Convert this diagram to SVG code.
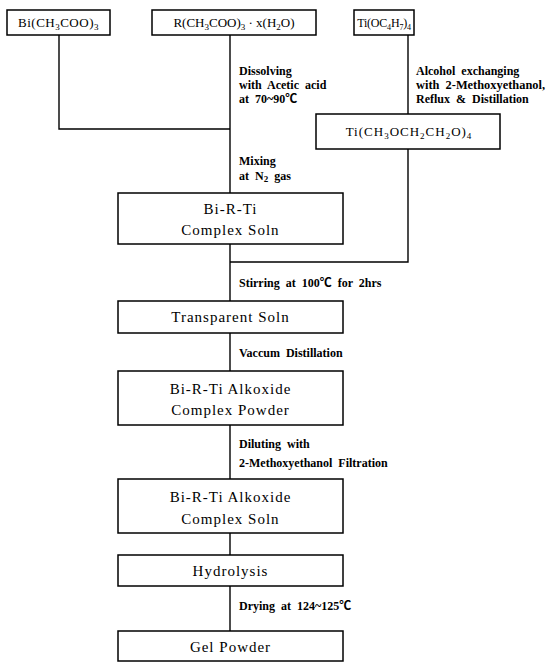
<svg xmlns="http://www.w3.org/2000/svg" width="547" height="662" viewBox="0 0 547 662">
<style>
.box{fill:#fff;stroke:#000;stroke-width:1.5}
.ln{fill:none;stroke:#000;stroke-width:1.4}
.bt{font-family:"Liberation Serif","Times New Roman",serif;font-size:15px;letter-spacing:1px;fill:#000;text-anchor:middle}
.tt{font-family:"Liberation Serif","Times New Roman",serif;font-size:13px;fill:#000;text-anchor:middle}
.an{font-family:"Liberation Serif","Times New Roman","Noto Sans CJK KR",serif;font-size:12px;font-weight:bold;fill:#000;word-spacing:3px}
.s{font-size:9px}
</style>
<rect width="547" height="662" fill="#fff"/>
<g id="connectors">
<path class="ln" d="M59 35 V129 H230"/>
<path class="ln" d="M230 35 V193"/>
<path class="ln" d="M408 35 V114"/>
<path class="ln" d="M408 149 V262 H230"/>
<path class="ln" d="M230 244 V301"/>
<path class="ln" d="M230 333 V371"/>
<path class="ln" d="M230 425 V479"/>
<path class="ln" d="M230 533 V555"/>
<path class="ln" d="M230 586 V631"/>
</g>
<g id="n-bi">
<rect class="box" x="7" y="10" width="103" height="25"/>
<text class="tt" x="58.5" y="27" letter-spacing="0.5">Bi(CH<tspan class="s" dy="3">3</tspan><tspan dy="-3">COO)</tspan><tspan class="s" dy="3">3</tspan></text>
</g>
<g id="n-r">
<rect class="box" x="152" y="10" width="164" height="25"/>
<text class="tt" x="234" y="27">R(CH<tspan class="s" dy="3">3</tspan><tspan dy="-3">COO)</tspan><tspan class="s" dy="3">3</tspan><tspan dy="-3"> · x(H</tspan><tspan class="s" dy="3">2</tspan><tspan dy="-3">O)</tspan></text>
</g>
<g id="n-ti">
<rect class="box" x="354" y="10" width="60" height="25"/>
<text class="tt" x="384" y="27" style="font-size:12px" letter-spacing="-0.2">Ti(OC<tspan style="font-size:8px" dy="3">4</tspan><tspan dy="-3">H</tspan><tspan style="font-size:8px" dy="3">7</tspan><tspan dy="-3">)</tspan><tspan style="font-size:8px" dy="3">4</tspan></text>
</g>
<g id="a-dissolve">
<text class="an" x="239" y="75">Dissolving</text>
<text class="an" x="239" y="89">with Acetic acid</text>
<text class="an" x="239" y="103">at 70~90℃</text>
</g>
<g id="a-alcohol">
<text class="an" x="416" y="75">Alcohol exchanging</text>
<text class="an" x="416" y="89" textLength="129" lengthAdjust="spacingAndGlyphs">with 2-Methoxyethanol,</text>
<text class="an" x="416" y="103">Reflux &amp; Distillation</text>
</g>
<g id="n-ti2">
<rect class="box" x="316" y="114" width="184" height="35"/>
<text class="tt" x="409" y="136" letter-spacing="1">Ti(CH<tspan class="s" dy="3">3</tspan><tspan dy="-3">OCH</tspan><tspan class="s" dy="3">2</tspan><tspan dy="-3">CH</tspan><tspan class="s" dy="3">2</tspan><tspan dy="-3">O)</tspan><tspan class="s" dy="3">4</tspan></text>
</g>
<g id="a-mixing">
<text class="an" x="239" y="165">Mixing</text>
<text class="an" x="239" y="180">at N<tspan class="s" dy="2">2</tspan><tspan dy="-2"> gas</tspan></text>
</g>
<g id="n-complex">
<rect class="box" x="118" y="193" width="225" height="51"/>
<text class="bt" x="230.5" y="214">Bi-R-Ti</text>
<text class="bt" x="230.5" y="235">Complex Soln</text>
</g>
<g id="a-stir"><text class="an" x="239" y="287">Stirring at 100℃ for 2hrs</text></g>
<g id="n-transparent">
<rect class="box" x="118" y="301" width="225" height="32"/>
<text class="bt" x="230.5" y="322">Transparent Soln</text>
</g>
<g id="a-vac"><text class="an" x="239" y="357">Vaccum Distillation</text></g>
<g id="n-powder">
<rect class="box" x="118" y="371" width="225" height="54"/>
<text class="bt" x="230.5" y="394">Bi-R-Ti Alkoxide</text>
<text class="bt" x="230.5" y="415">Complex Powder</text>
</g>
<g id="a-dilute">
<text class="an" x="239" y="448">Diluting with</text>
<text class="an" x="239" y="467">2-Methoxyethanol Filtration</text>
</g>
<g id="n-soln">
<rect class="box" x="118" y="479" width="225" height="54"/>
<text class="bt" x="230.5" y="502">Bi-R-Ti Alkoxide</text>
<text class="bt" x="230.5" y="524">Complex Soln</text>
</g>
<g id="n-hydro">
<rect class="box" x="118" y="555" width="225" height="31"/>
<text class="bt" x="230.5" y="576">Hydrolysis</text>
</g>
<g id="a-dry"><text class="an" x="239" y="610">Drying at 124~125℃</text></g>
<g id="n-gel">
<rect class="box" x="118" y="631" width="225" height="30"/>
<text class="bt" x="230.5" y="652">Gel Powder</text>
</g>
</svg>
